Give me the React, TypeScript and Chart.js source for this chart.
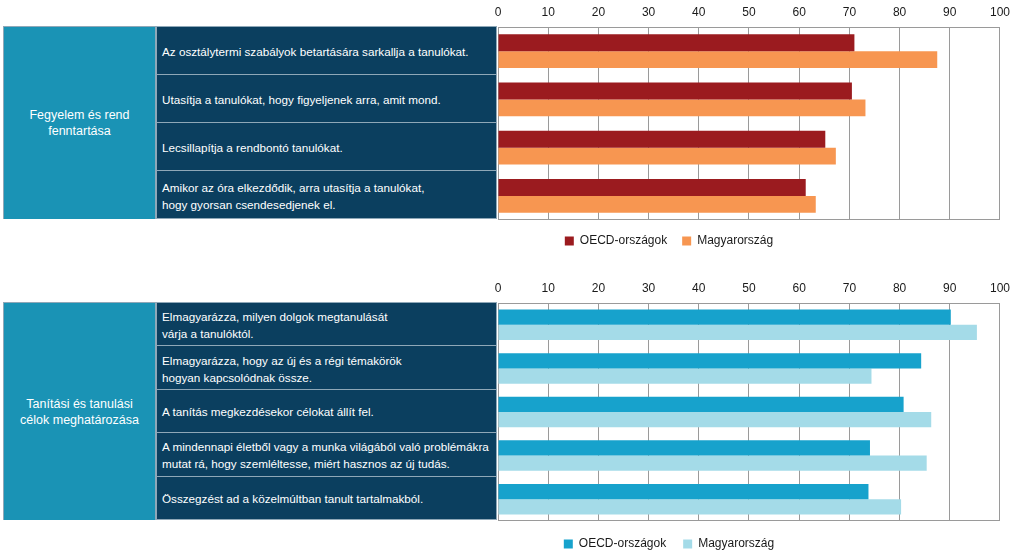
import React, { useEffect, useRef } from "react";
import { Chart, registerables } from "chart.js";

Chart.register(...registerables);

// ---------- data ----------
const seriesNames = ["OECD-országok", "Magyarország"];

const groupTop = ["Fegyelem és rend", "fenntartása"];
const itemsTop: string[][] = [
  ["Az osztálytermi szabályok betartására sarkallja a tanulókat."],
  ["Utasítja a tanulókat, hogy figyeljenek arra, amit mond."],
  ["Lecsillapítja a rendbontó tanulókat."],
  ["Amikor az óra elkezdődik, arra utasítja a tanulókat,", "hogy gyorsan csendesedjenek el."],
];
const oecdTop = [71.0, 70.5, 65.2, 61.3];
const huTop = [87.5, 73.2, 67.3, 63.3];

const groupBottom = ["Tanítási és tanulási", "célok meghatározása"];
const itemsBottom: string[][] = [
  ["Elmagyarázza, milyen dolgok megtanulását", "várja a tanulóktól."],
  ["Elmagyarázza, hogy az új és a régi témakörök", "hogyan kapcsolódnak össze."],
  ["A tanítás megkezdésekor célokat állít fel."],
  ["A mindennapi életből vagy a munka világából való problémákra", "mutat rá, hogy szemléltesse, miért hasznos az új tudás."],
  ["Összegzést ad a közelmúltban tanult tartalmakból."],
];
const oecdBottom = [90.2, 84.3, 80.8, 74.1, 73.8];
const huBottom = [95.4, 74.4, 86.3, 85.4, 80.3];

const axisMin = 0;
const axisMax = 100;
const axisStep = 10;

// ---------- styles ----------
const FONT = "'Liberation Sans', Arial, sans-serif";
const TEAL = "#1A93B5";
const NAVY = "#0B3F5F";
const SEP = "#8FA8B8";
const GRID = "#9a9a9a";

const plotBorder = {
  id: "plotBorder",
  beforeDatasetsDraw(chart: any) {
    const { ctx, chartArea } = chart;
    const l = Math.round(chartArea.left) + 0.5;
    const t = Math.round(chartArea.top) + 0.5;
    const r = Math.round(chartArea.right) - 0.5;
    const b = Math.round(chartArea.bottom) - 0.5;
    ctx.save();
    ctx.strokeStyle = GRID;
    ctx.lineWidth = 1;
    ctx.strokeRect(l, t, r - l, b - t);
    ctx.restore();
  },
};

type PanelProps = {
  canvasTop: number;
  plotTop: number;
  plotBottom: number;
  legendPad: number;
  items: string[][];
  group: string[];
  oecd: number[];
  hu: number[];
  colors: [string, string];
};

const CANVAS_LEFT = 337;
const PLOT_LEFT = 498;
const PLOT_RIGHT = 1001;
const PAD_RIGHT = 16;

function BarPanel(p: PanelProps) {
  const ref = useRef<HTMLCanvasElement | null>(null);
  const width = PLOT_RIGHT + PAD_RIGHT - CANVAS_LEFT;
  const legendH = p.legendPad + 23;
  const height = p.plotBottom - p.canvasTop + legendH;
  const padTop = 5;
  const xAxisH = p.plotTop - p.canvasTop - padTop;

  useEffect(() => {
    if (!ref.current) return;
    const chart = new Chart(ref.current, {
      type: "bar",
      data: {
        labels: p.items,
        datasets: [
          { label: seriesNames[0], data: p.oecd, backgroundColor: p.colors[0], borderWidth: 0 },
          { label: seriesNames[1], data: p.hu, backgroundColor: p.colors[1], borderWidth: 0 },
        ],
      },
      options: {
        indexAxis: "y",
        responsive: false,
        animation: false,
        events: [],
        layout: { padding: { top: padTop, right: PAD_RIGHT, left: 0, bottom: 0 } },
        datasets: { bar: { categoryPercentage: 0.7, barPercentage: 1.0 } },
        scales: {
          x: {
            position: "top",
            min: axisMin,
            max: axisMax,
            ticks: {
              stepSize: axisStep,
              padding: 7,
              color: "#1a1a1a",
              font: { family: FONT, size: 12 },
            },
            grid: { color: GRID, lineWidth: 1, drawTicks: false },
            border: { display: true, color: GRID, width: 1 },
            afterFit: (s: any) => {
              s.height = xAxisH;
            },
          },
          y: {
            position: "left",
            ticks: { display: false },
            grid: { display: false },
            border: { display: false },
            afterFit: (s: any) => {
              s.width = PLOT_LEFT - CANVAS_LEFT;
            },
          },
        },
        plugins: {
          tooltip: { enabled: false },
          legend: {
            position: "bottom",
            align: "center",
            labels: {
              boxWidth: 9,
              boxHeight: 9,
              padding: p.legendPad,
              color: "#1a1a1a",
              font: { family: FONT, size: 12 },
            },
          },
        },
      },
      plugins: [plotBorder],
    } as any);
    return () => chart.destroy();
  }, []);

  const tableTop = p.plotTop;
  const tableH = p.plotBottom - p.plotTop;
  const rowH = tableH / p.items.length;

  return (
    <>
      <div
        style={{
          position: "absolute",
          left: 3,
          top: tableTop - 1,
          width: 494,
          height: tableH + 1,
          background: SEP,
        }}
      >
        <div
          style={{
            position: "absolute",
            left: 1,
            top: 1,
            width: 151,
            bottom: 0,
            background: TEAL,
            color: "#fff",
            fontFamily: FONT,
            fontSize: 12.5,
            lineHeight: "16px",
            display: "flex",
            flexDirection: "column",
            alignItems: "center",
            justifyContent: "center",
            textAlign: "center",
          }}
        >
          {p.group.map((g, i) => (
            <div key={i}>{g}</div>
          ))}
        </div>
        {p.items.map((lines, i) => (
          <div
            key={i}
            style={{
              position: "absolute",
              left: 154,
              top: 1 + i * rowH,
              width: 339,
              height: rowH - 1,
              background: NAVY,
              color: "#fff",
              fontFamily: FONT,
              fontSize: 11.7,
              lineHeight: "17px",
              display: "flex",
              flexDirection: "column",
              justifyContent: "center",
              paddingLeft: 5,
              paddingTop: 2,
              boxSizing: "border-box",
              whiteSpace: "nowrap",
            }}
          >
            {lines.map((l, j) => (
              <div key={j}>{l}</div>
            ))}
          </div>
        ))}
      </div>
      <canvas
        ref={ref}
        width={width}
        height={height}
        style={{ position: "absolute", left: CANVAS_LEFT, top: p.canvasTop, width, height }}
      />
    </>
  );
}

export default function App() {
  return (
    <div
      style={{
        position: "fixed",
        left: 0,
        top: 0,
        width: 1023,
        height: 558,
        background: "#fff",
        overflow: "hidden",
      }}
    >
      <BarPanel
        canvasTop={0}
        plotTop={27}
        plotBottom={219}
        legendPad={15}
        items={itemsTop}
        group={groupTop}
        oecd={oecdTop}
        hu={huTop}
        colors={["#9B1B1F", "#F79651"]}
      />
      <BarPanel
        canvasTop={276}
        plotTop={303}
        plotBottom={520}
        legendPad={17}
        items={itemsBottom}
        group={groupBottom}
        oecd={oecdBottom}
        hu={huBottom}
        colors={["#17A2CC", "#A4DBE8"]}
      />
    </div>
  );
}
